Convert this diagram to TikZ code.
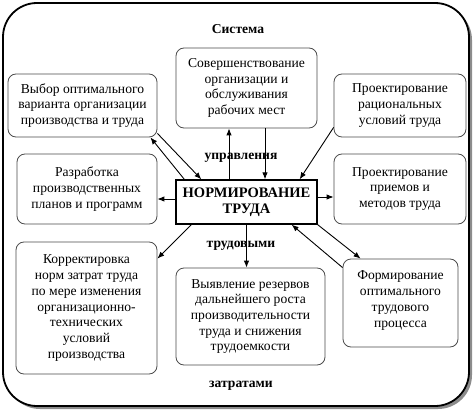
\documentclass[tikz,border=0pt]{standalone}
\usepackage{fontspec}
\setmainfont{Liberation Serif}
\usetikzlibrary{positioning,arrows.meta,shadows}

\tikzset{
  basic blok/.style = {
    shape = rectangle,
    draw,
    align = center,
    inner sep = 2pt,
    font = \fontsize{13.6}{15.7}\selectfont,
    },
  blok/.style = {
    basic blok,
    rounded corners = 8pt,
    draw = black!70,
    line width = 0.8pt,
    fill = white,
    },
  norma/.style = {
    basic blok,
    draw = black,
    line width = 1.3pt,
    fill = white,
    font = \fontsize{14.5}{16.5}\selectfont\bfseries,
    },
  ramka/.style = {
    shape = rectangle,
    draw = black,
    line width = 1.8pt,
    rounded corners = 34pt,
    fill = white,
    drop shadow = {shadow xshift=3pt, shadow yshift=-3pt, fill=black!45, opacity=1},
    },
  metka/.style = {font = \fontsize{13.6}{15}\selectfont\bfseries},
  strelka/.style = {-{Latex[length=7pt,width=5.5pt]}, line width=0.9pt, black},
}

\begin{document}
\begin{tikzpicture}[x=1pt,y=-1pt]
    \useasboundingbox (0,0) rectangle (474,412);

    % outer frame
    \node[ramka, minimum width=466pt, minimum height=403pt] (sistema) at (236,204.5) {};

    % labels
    \node[metka] (lsis) at (238,29) {Система};
    \node[metka] (lupr) at (241,158) {управления};
    \node[metka] (ltrud) at (241,246) {трудовыми};
    \node[metka] (lzat) at (241,386) {затратами};

    % boxes
    \node[blok, minimum width=149pt, minimum height=63pt] (vybor) at (82.5,105.5)
        {Выбор оптимального\\варианта организации\\производства и труда};
    \node[blok, minimum width=141pt, minimum height=80pt] (sover) at (246.5,88)
        {Совершенствование\\организации и\\обслуживания\\рабочих мест};
    \node[blok, minimum width=132pt, minimum height=63pt] (uslov) at (400,105.5)
        {Проектирование\\рациональных\\условий труда};
    \node[blok, minimum width=140pt, minimum height=70pt] (razr) at (87,189)
        {Разработка\\производственных\\планов и программ};
    \node[norma, minimum width=141pt, minimum height=44pt] (norm) at (246.5,202)
        {НОРМИРОВАНИЕ\\ТРУДА};
    \node[blok, minimum width=132pt, minimum height=70pt] (priem) at (400,189)
        {Проектирование\\приемов и\\методов труда};
    \node[blok, minimum width=141pt, minimum height=132pt] (korr) at (86.5,308)
        {Корректировка\\норм затрат труда\\по мере изменения\\организационно-\\технических\\условий\\производства};
    \node[blok, minimum width=149pt, minimum height=97pt] (vyav) at (250.5,316.5)
        {Выявление резервов\\дальнейшего роста\\производительности\\труда и снижения\\трудоемкости};
    \node[blok, minimum width=115pt, minimum height=88pt, text depth=8pt] (form) at (400.5,303)
        {Формирование\\оптимального\\трудового\\процесса};

    % arrows
    \draw[strelka] ([xshift=-17.5pt]norm.north) -- ([xshift=-17.5pt]sover.south);
    \draw[strelka] ([xshift=18.5pt]sover.south) -- ([xshift=18.5pt]norm.north);
    \draw[strelka] ([xshift=9pt]norm.north west) -- ([xshift=-7pt]vybor.south east);
    \draw[strelka] ([yshift=4pt]vybor.south east) -- ([xshift=26pt]norm.north west);
    \draw[strelka] ([yshift=10pt]uslov.south west) -- ([xshift=-18pt]norm.north east);
    \draw[strelka] ([yshift=3pt]norm.west) -- ([yshift=3pt]norm.west -| razr.east);
    \draw[strelka] ([yshift=5pt]norm.east) -- ([yshift=5pt]norm.east -| priem.west);
    \draw[strelka] ([xshift=16pt]norm.south west) -- ([yshift=-17pt]korr.north east);
    \draw[strelka] (norm.south) -- (norm.south |- vyav.north);
    \draw[strelka] ([yshift=-9pt]form.north west) -- ([xshift=-26pt]norm.south east);
    \draw[strelka] (norm.south east) -- ([xshift=18pt]form.north west);

\end{tikzpicture}
\end{document}
